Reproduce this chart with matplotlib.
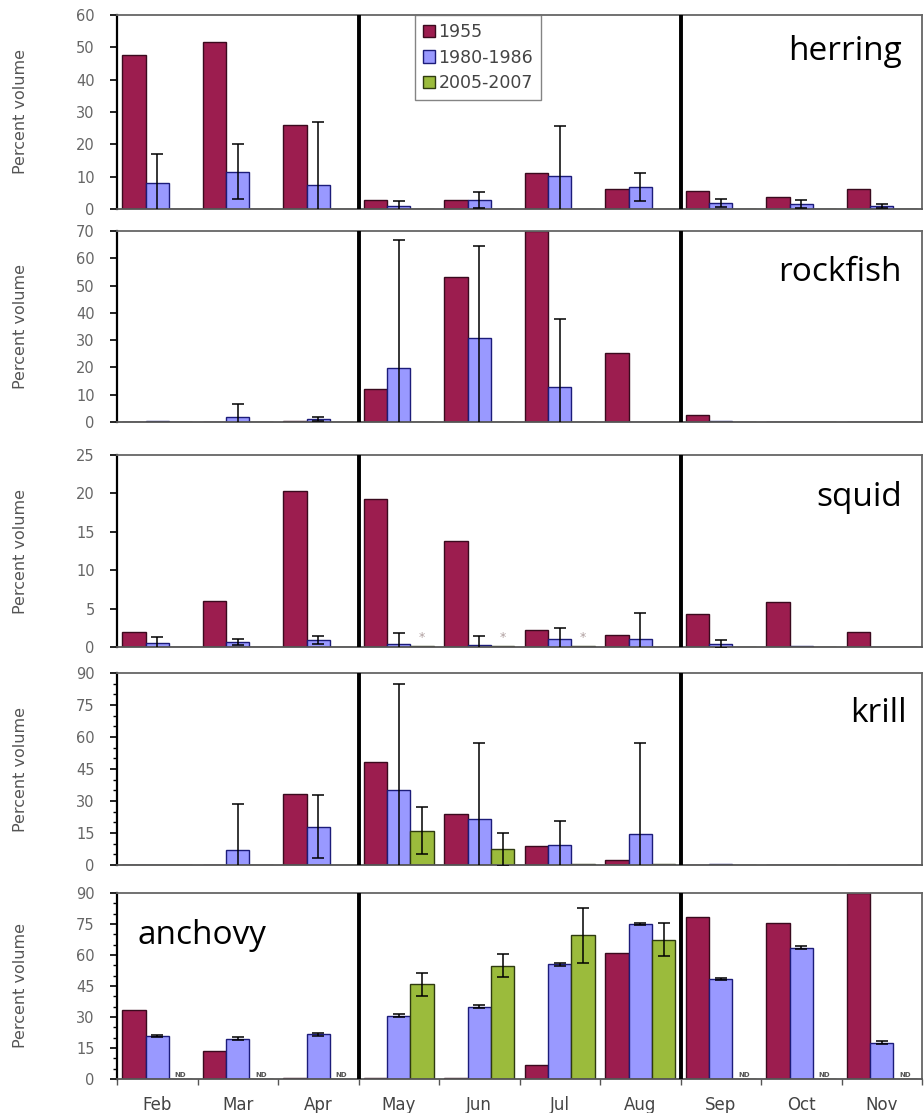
import numpy as np
import matplotlib.pyplot as plt
from matplotlib.ticker import MultipleLocator
import matplotlib.patches as mpatches

months = ['Feb', 'Mar', 'Apr', 'May', 'Jun', 'Jul', 'Aug', 'Sep', 'Oct', 'Nov']
periods = ['1955', '1980-1986', '2005-2007']

# herring
herring_1955 = [47.5, 51.5, 26.0, 2.8, 2.8, 11.2, 6.3, 5.5, 3.8, 6.1]
herring_1980 = [8.0, 11.5, 7.5, 1.0, 2.8, 10.3, 6.8, 1.8, 1.5, 1.0]
herring_1980_err = [9.0, 8.5, 19.5, 1.5, 2.5, 15.5, 4.2, 1.2, 1.2, 0.6]
herring_2005 = [0, 0, 0, 0, 0, 0, 0, 0, 0, 0]
herring_2005_err = [0, 0, 0, 0, 0, 0, 0, 0, 0, 0]

# rockfish
rockfish_1955 = [0, 0, 0.5, 12.0, 53.2, 70.0, 25.2, 2.5, 0, 0]
rockfish_1980 = [0.2, 2.0, 1.2, 19.7, 30.7, 12.9, 0, 0.3, 0, 0]
rockfish_1980_err = [0, 4.5, 0.8, 47.0, 33.8, 25.0, 0, 0, 0, 0]
rockfish_2005 = [0, 0, 0, 0, 0, 0, 0, 0, 0, 0]
rockfish_2005_err = [0, 0, 0, 0, 0, 0, 0, 0, 0, 0]

# squid
squid_1955 = [2.0, 6.0, 20.3, 19.3, 13.8, 2.2, 1.5, 4.3, 5.9, 1.9]
squid_1980 = [0.5, 0.6, 0.9, 0.4, 0.2, 1.1, 1.0, 0.4, 0.1, 0]
squid_1980_err = [0.8, 0.4, 0.5, 1.4, 1.2, 1.4, 3.4, 0.5, 0, 0]
squid_2005 = [0, 0, 0, 0.1, 0.1, 0.1, 0, 0, 0, 0]
squid_2005_err = [0, 0, 0, 0, 0, 0, 0, 0, 0, 0]

# krill
krill_1955 = [0, 0, 33.1, 48.1, 23.9, 8.9, 2.3, 0, 0, 0]
krill_1980 = [0, 7.0, 18.0, 35.2, 21.4, 9.4, 14.5, 0.5, 0, 0]
krill_1980_err = [0, 21.5, 14.8, 49.7, 36.0, 11.0, 42.5, 0, 0, 0]
krill_2005 = [0, 0, 0, 16.1, 7.3, 0.3, 0.3, 0, 0, 0]
krill_2005_err = [0, 0, 0, 11.0, 7.8, 0, 0, 0, 0, 0]

# anchovy
anchovy_1955 = [33.4, 13.5, 0.4, 0.6, 0.6, 7.0, 60.8, 78.5, 75.3, 90.0]
anchovy_1980 = [20.8, 19.4, 21.6, 30.6, 35.0, 55.5, 75.0, 48.4, 63.5, 17.6]
anchovy_1980_err = [0.7, 0.7, 0.7, 0.7, 0.7, 0.7, 0.7, 0.7, 0.7, 0.7]
anchovy_2005 = [0, 0, 0, 45.8, 54.8, 69.5, 67.5, 0, 0, 0]
anchovy_2005_err = [0, 0, 0, 5.6, 5.5, 13.3, 8.0, 0, 0, 0]

panels = [
    ('herring', herring_1955, herring_1980, herring_1980_err, herring_2005, herring_2005_err, 60, 10, None),
    ('rockfish', rockfish_1955, rockfish_1980, rockfish_1980_err, rockfish_2005, rockfish_2005_err, 70, 10, None),
    ('squid', squid_1955, squid_1980, squid_1980_err, squid_2005, squid_2005_err, 25, 5, None),
    ('krill', krill_1955, krill_1980, krill_1980_err, krill_2005, krill_2005_err, 90, 15, 5),
    ('anchovy', anchovy_1955, anchovy_1980, anchovy_1980_err, anchovy_2005, anchovy_2005_err, 90, 15, 5),
]

# pixel top/bottom of each plot area
panel_px = [(15, 209), (231, 422), (455, 647), (673, 865), (893, 1079)]
label_pos = [(0.975, 0.81, 'right'), (0.975, 0.785, 'right'), (0.975, 0.78, 'right'),
             (0.981, 0.79, 'right'), (0.026, 0.774, 'left')]

colors = ['#9c1d4f', '#9999ff', '#9bbb3c']
edges = ['#3a0a1e', '#1c1c7a', '#2e3a10']
tick_color = '#666666'

fig = plt.figure(figsize=(9.24, 11.13), dpi=100)
x = np.arange(len(months))
w = 0.29

for p, (name, s1, s2, e2, s3, e3, ymax, step, minor) in enumerate(panels):
    top, bot = panel_px[p]
    ax = fig.add_axes([117 / 924, 1 - bot / 1113, 805 / 924, (bot - top) / 1113])

    series = [(s1, None), (s2, e2), (s3, e3)]
    for k, (vals, errs) in enumerate(series):
        ax.bar(x + (k - 1) * w, vals, w, color=colors[k], edgecolor=edges[k],
               linewidth=1.0, zorder=2)
        if errs is not None:
            sel = [i for i in range(len(months)) if errs[i] > 0]
            if sel:
                ax.errorbar(x[sel] + (k - 1) * w, [vals[i] for i in sel],
                            yerr=[errs[i] for i in sel], fmt='none', ecolor='black',
                            elinewidth=1.1, capsize=4, capthick=1.1, zorder=3)

    ax.axvline(2.5, color='black', lw=2.8, zorder=4)
    ax.axvline(6.5, color='black', lw=2.8, zorder=4)

    ax.set_xlim(-0.5, 9.5)
    ax.set_ylim(0, ymax)
    ax.yaxis.set_major_locator(MultipleLocator(step))
    if minor:
        ax.yaxis.set_minor_locator(MultipleLocator(minor))
    ax.tick_params(axis='y', which='major', direction='out', length=5, width=1.2,
                   color='black', labelcolor=tick_color, labelsize=10.5, pad=11)
    ax.tick_params(axis='y', which='minor', direction='out', length=3, width=1, color='black')

    ax.set_xticks(x)
    if p == 4:
        ax.set_xticks(np.arange(-0.5, 10, 1), minor=True)
        ax.tick_params(axis='x', which='minor', length=4, width=1, color='#555555')
        ax.set_xticklabels(months)
    else:
        ax.set_xticklabels([])
    ax.tick_params(axis='x', which='major', length=0, pad=12, labelsize=12,
                   labelcolor='#444444')

    ax.spines['left'].set_color('black')
    ax.spines['left'].set_linewidth(1.6)
    for s in ['top', 'right']:
        ax.spines[s].set_color('#666666')
        ax.spines[s].set_linewidth(1.3)
    ax.spines['bottom'].set_color('#555555')
    ax.spines['bottom'].set_linewidth(1.3)

    ax.set_ylabel('Percent volume', fontsize=11.5, color='#555555')
    ax.yaxis.set_label_coords(-0.11, 0.5)

    lx, ly, ha = label_pos[p]
    ax.text(lx, ly, name, transform=ax.transAxes, ha=ha, va='center',
            fontsize=24, family='Open Sans', color='black')

    if name == 'squid':
        for i in [3, 4, 5]:
            ax.text(i + w, 1.3, '*', ha='center', va='center', fontsize=9, color='#b0a0a0')
    if name == 'anchovy':
        for i in range(len(months)):
            if s3[i] == 0:
                ax.text(i + w, 0.6, 'ND', ha='center', va='bottom', fontsize=5,
                        color='#555555', fontweight='bold')

    if p == 0:
        handles = [mpatches.Patch(facecolor=colors[k], edgecolor=edges[k], label=periods[k])
                   for k in range(3)]
        ax.legend(handles=handles, loc='upper left', bbox_to_anchor=(0.37, 1.0),
                  prop={'size': 12.5}, frameon=True, fancybox=False, edgecolor='#666666',
                  handlelength=0.7, handleheight=0.7, handletextpad=0.2,
                  borderaxespad=0, labelspacing=0.45, borderpad=0.45,
                  labelcolor='#444444')

plt.savefig('out.png', dpi=100)
